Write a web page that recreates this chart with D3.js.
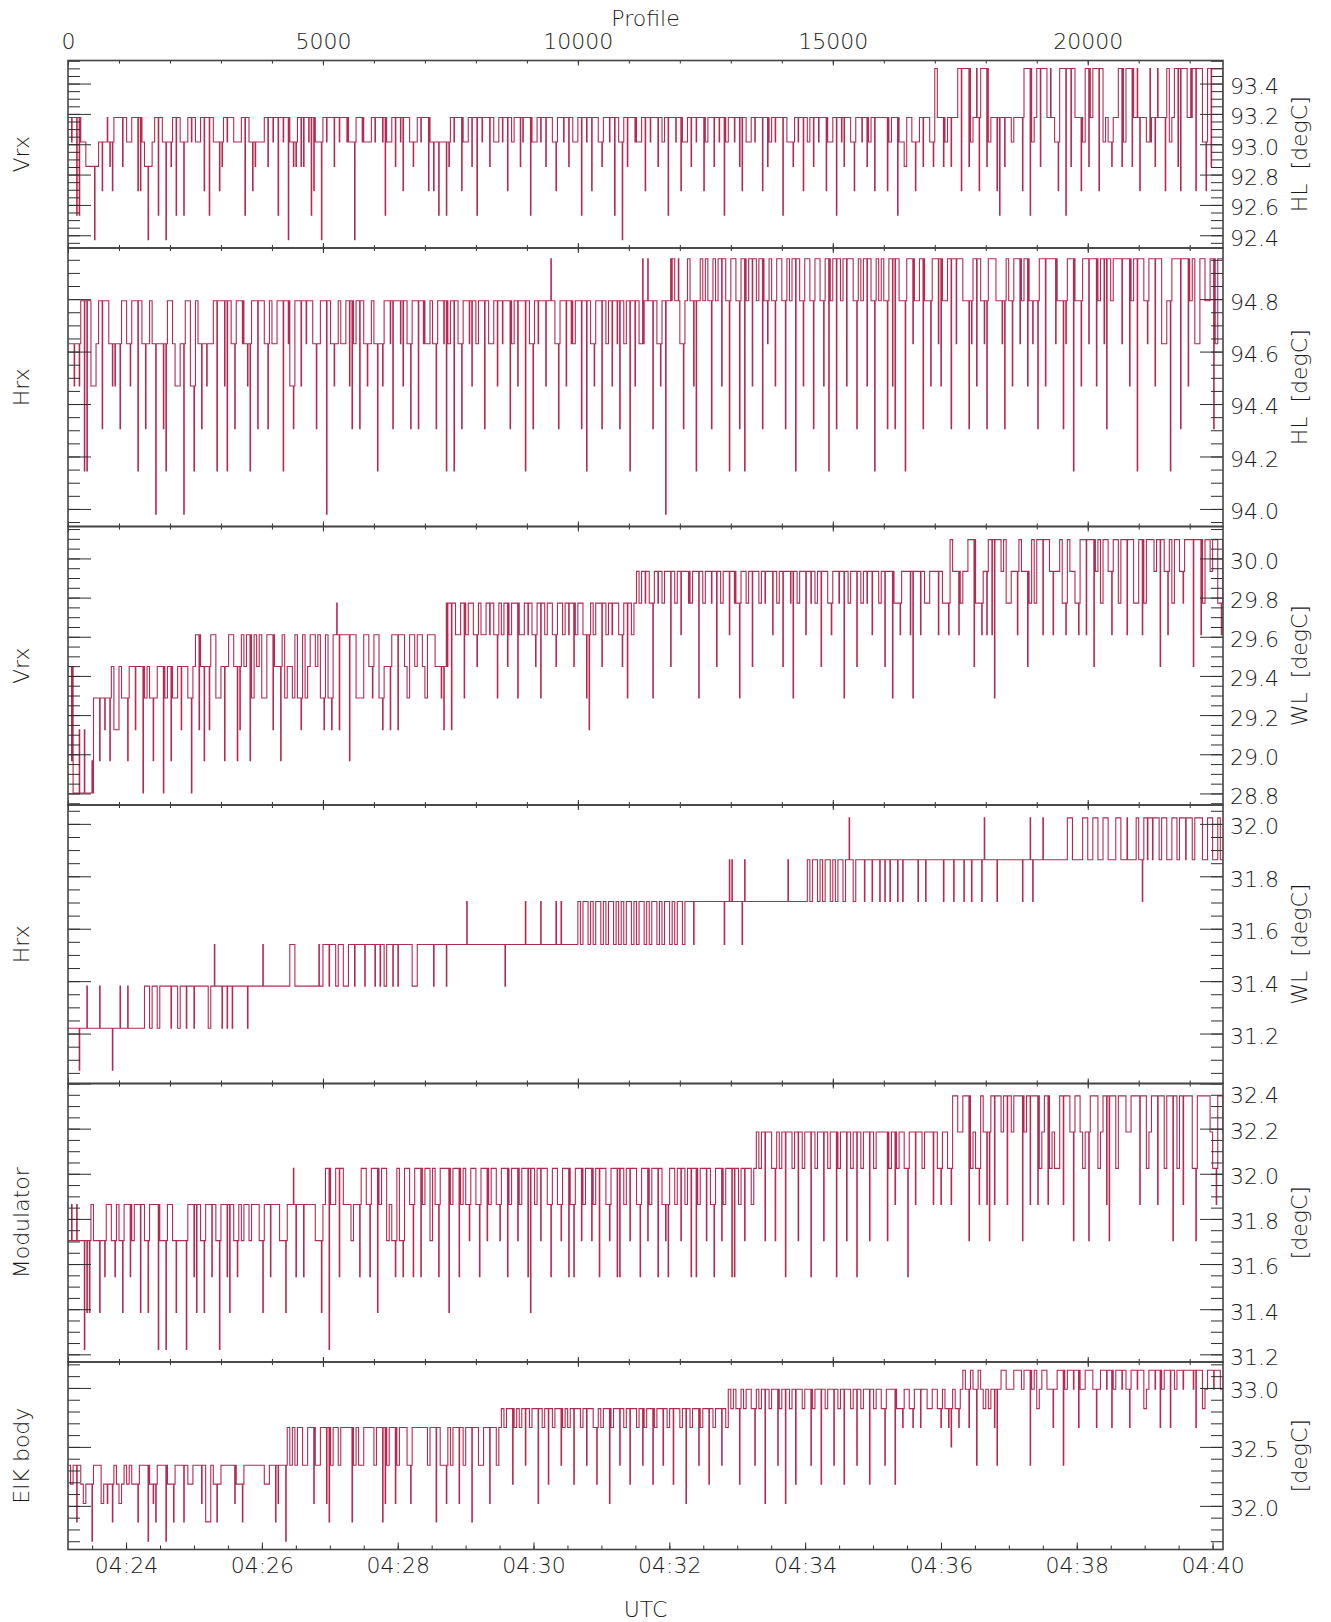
<!DOCTYPE html>
<html>
<head>
<meta charset="utf-8">
<script src="https://cdn.jsdelivr.net/npm/d3@7"></script>
<style>
  body { margin: 0; background: #fff; }
  text { font-family: "DejaVu Sans", sans-serif; font-weight: 200; fill: #1a1a1a; font-size: 22px; }
</style>
</head>
<body>
<svg id="chart" width="1331" height="1622"></svg>
<script>
// ---------------- data ----------------
// Housekeeping temperatures, one code character per 50 profiles.
// Digit = temperature level held for the block, letter = a short excursion
// to that level (a=0, b=1, ...) before returning to the held level.
const profileCount = 22653;
const profilesPerCode = 50;
const timeStart = new Date(Date.UTC(2000, 0, 1, 4, 23, 8, 700));
const timeEnd   = new Date(Date.UTC(2000, 0, 1, 4, 40, 9, 200));

const profileTicks = [0, 5000, 10000, 15000, 20000];

const panelNames = ["Vrx", "Hrx", "Vrx", "Hrx", "Modulator", "EIK body"];
const panelUnits = ["HL  [degC]", "HL  [degC]", "WL  [degC]", "WL  [degC]", "[degC]", "[degC]"];
const panelRanges = [[92.316, 93.552], [93.933, 94.995], [28.741, 30.163], [31.0095, 32.072], [31.166, 32.40], [31.63, 33.22]];
const majorSteps = [0.2, 0.2, 0.2, 0.2, 0.2, 0.5];
const minorSteps = [0.05, 0.05, 0.05, 0.05, 0.05, 0.1];

const hlVrxLevels = [92.371, 92.532, 92.693, 92.854, 93.015, 93.176, 93.338, 93.499];
const hlVrxCodes =
  "5e5bb44333ad4c4fdc55 5d54455cc43a345b54a4 d5b54b45e5445c5b544c d5e554445b54cd4445d5 " +
  "e5b5e5a4dd5dd5ebc44a 5e55d5e55e44a55e4445 e55eb445d5ec554d45e5 5c4c4b44bd " +
  "5e55c445d5b5e55d5445 e5c5455de55b445e5d55 4c55e5d5445b5e5c554d 55e5b54a5d55e445c5e5 " +
  "5d545b55e5c445d5e55c 455d5e5b455e5dc5445e 55c5d45e55b544d5e5c5 45d5e55c445b5ed554c5 5e5d45c55 " +
  "55c455b443554c45d554 d755d45d557c77d45hc7 7d455cb5d554555c77b4 57d775h54c7hb7d755c4 " +
  "7d577c7454d557d477d5 hc554h5dh55c7457dc77 5h7c774c7d7h775";

const hlHrxLevels = [93.98, 94.145, 94.306, 94.469, 94.630, 94.794, 94.954];
const hlHrxCodes =
  "44d4d5bb53345c554dd4 c554d55b54c454a44cb5 54334a553b54c4d445b5 5db54c55e4db55c554c5 " +
  "4455b5e3c55d5e554c45 5a54d45445dc45c54d45 4b4d55ec55ed54c55c5e 4454c55eb4 " +
  "5b54c55ed5455c5445d5 e55c45d55b54c5e55d5g 54c55d5e455c5b54d55c 545d5ec545b5d54g5g5c " +
  "54d5a5g65g4c565db565 65c656d65b665c6b56d6 56c5e65d665c656b65d6 65c665d6b56c656d665c 656d65b65 " +
  "65c6dc655b66e556c55d 66ed556c6e6655ce6d65 ec66655ec65d66e56d5e 5c66d666e55ce66b55d6 " +
  "6e66d56ec65666e66d56 b665e66d66445b666c66 d564466556c466c";

const wlVrxLevels = [28.802, 28.967, 29.125, 29.287, 29.448, 29.610, 29.772, 29.934, 30.096];
const wlVrxCodes =
  "4b00c0c00b33b3c3b422 433b44c44a343b344a34 b334c443a45c4b4c5533 4b4554bc545b35453355 " +
  "c44b5344353c53455453 c53c5gc555b55333554d 553c44c55c5543554554 355544dcg6 " +
  "c6556d5665e6556f65d6 56e566d556f65e6d6566 5e6656f6e5665dc6566e 656f665e6d656767g76d " +
  "7g7677e767f77g677d76 77g7e7677f7g6d7767e7 767g77f767e77gd7677f 7g767e776f77g7d7677e 767g7f776 " +
  "7e77d66f777fd77f7667 77f766f877f67788e66f 7f8fd88786677f877e68 688f887f7786f8776f88 " +
  "f88e786887f88688f886 68f688878e87f86887g8 88e88f6887886f8";

const wlHrxLevels = [31.06, 31.22, 31.381, 31.540, 31.704, 31.863, 32.023];
const wlHrxCodes =
  "1111a11c1111c1111a11 c11c1111112212212222 b22122b22b2222212d22 b2b2b22222b22222d222 " +
  "222222233222222222d2 33c332332233c333c333 c3c3233c3c3333322333 333c3333c3 " +
  "333333e3333333333333 3c3333333e33333e3333 3e3e3333334344343443 43443434344343443434 " +
  "434344343443444d4444 4444444d4ff444df4444 444444444444f4444444 5455454554545545g545 55e55e55e " +
  "5e5e55e5e55555e55e55 5555e555e555e55e555e g5555e555555555e55ge 555g5555555556655556 " +
  "6556655665556655g555 65e6f6f665665566566f 665666556655655";

const modulatorLevels = [31.222, 31.385, 31.544, 31.704, 31.864, 32.024, 32.185, 32.345];
const modulatorCodes =
  "3e3e33abb433b3c443c4 3b44c344b43b444a33a4 43b333a44cb43b44c43a 44cb43c434434443b44c " +
  "44433b44fc44c444433b 45a445c5444344c554c5 5b455343c53c554c55c4 55354c555b " +
  "455c454d554c55d4554d 55c455d455cb545d554c 554d55c4c55d455d45c5 54d55cc545d554c55d45 " +
  "5c54dc5545d545c5c455 d54c55d455cc545d5545 656d665d656c6656d656 6c6566d6566c566d656c 6566d6566 " +
  "66d56e5665c66e665666 e65e665e776677d565e7 6ed7e7767e76777d67e7 7e567e56557e776d7765 " +
  "6d777567ed7757776677 7e775677e77577d757e7 775d7777765e776";

const eikBodyLevels = [31.70, 31.864, 32.02, 32.184, 32.345, 32.5, 32.664, 32.825, 32.989, 33.15];
const eikBodyCodes =
  "434b43233a44423c3b43 2343433b444a3cb444a3 3b444b433444c41143b3 44444c33b44444444334 " +
  "4bc44a6464664466c446 6cb46646666b46446666 466bc466c46664c66666 6466b644c6 " +
  "466c6466b664466c6646 7677d6767e7677c767d7 677e6767d7767e776d76 77c677e767d7767e677d " +
  "677e767d7767c7677e67 7d7677e768787d87887e 878c8788e78c878d8878 8e788d8788e878d8878e 8788d8788 " +
  "7e888d77g887g88g8877 887g87gf87g8 98g98e987878ge899888 999899e89789988g899e " +
  "899i9g889998g899i9g8 99i98g99i997899i9g89 9g9899i999ig997899i998g";

const panelLevels = [hlVrxLevels, hlHrxLevels, wlVrxLevels, wlHrxLevels, modulatorLevels, eikBodyLevels];
const panelCodes  = [hlVrxCodes, hlHrxCodes, wlVrxCodes, wlHrxCodes, modulatorCodes, eikBodyCodes];

// ---------------- layout ----------------
const plotLeft = 68, plotRight = 1223;
const panelTops = [60.5, 248, 526.5, 805, 1083.5, 1362];
const panelBottoms = [248, 526.5, 805, 1083.5, 1362, 1549.5];
const lineColor = "#b42a50";
const axisColor = "#2e2e2e";

const svg = d3.select("#chart");

const xProfile = d3.scaleLinear().domain([0, profileCount]).range([plotLeft, plotRight]);
const xTime = d3.scaleUtc().domain([timeStart, timeEnd]).range([plotLeft, plotRight]);

function stepValues(lo, hi, step) {
  const a = Math.ceil(lo / step - 1e-6), b = Math.floor(hi / step + 1e-6);
  return d3.range(a, b + 1).map(k => +(k * step).toFixed(4));
}

// turn a code string into step-trace vertices [profile, temperature]
function decode(codes, levels) {
  const s = codes.replace(/\s+/g, "");
  const pts = [];
  let base = null;
  for (let i = 0; i < s.length; i++) {
    const ch = s[i], p0 = i * profilesPerCode;
    if (ch >= "0" && ch <= "9") {
      base = +ch;
      pts.push([p0, levels[base]]);
    } else {
      const k = ch.charCodeAt(0) - 97;
      if (base === null) base = k;
      pts.push([p0, levels[base]]);
      pts.push([p0 + 20, levels[k]]);
      pts.push([p0 + 30, levels[base]]);
    }
  }
  pts.push([s.length * profilesPerCode, levels[base]]);
  return pts;
}

function styleAxis(g) {
  g.select(".domain").remove();
  g.selectAll(".tick line").attr("stroke", axisColor).attr("stroke-width", 1);
  g.selectAll(".tick text").attr("fill", "#1a1a1a").style("font-size", "22px");
  g.attr("font-family", null).attr("font-size", null);
}

panelNames.forEach((name, i) => {
  const top = panelTops[i], bottom = panelBottoms[i];
  const y = d3.scaleLinear().domain(panelRanges[i]).range([bottom, top]);
  const g = svg.append("g");

  const clipId = "clip" + i;
  svg.append("clipPath").attr("id", clipId).append("rect")
    .attr("x", plotLeft).attr("y", top).attr("width", plotRight - plotLeft).attr("height", bottom - top);

  // temperature trace
  const pts = decode(panelCodes[i], panelLevels[i]);
  const line = d3.line().x(d => xProfile(d[0])).y(d => y(d[1])).curve(d3.curveStepAfter);
  g.append("path").datum(pts)
    .attr("clip-path", `url(#${clipId})`)
    .attr("fill", "none").attr("stroke", lineColor).attr("stroke-width", 1.1)
    .attr("d", line);

  // y ticks: left side ticks only, right side ticks with labels
  const minors = stepValues(panelRanges[i][0], panelRanges[i][1], minorSteps[i]);
  const majors = stepValues(panelRanges[i][0], panelRanges[i][1], majorSteps[i]);

  g.append("g").attr("transform", `translate(${plotLeft},0)`)
    .call(d3.axisLeft(y).tickValues(minors).tickSize(-12).tickFormat("")).call(styleAxis);
  g.append("g").attr("transform", `translate(${plotLeft},0)`)
    .call(d3.axisLeft(y).tickValues(majors).tickSize(-23).tickFormat("")).call(styleAxis);
  g.append("g").attr("transform", `translate(${plotRight},0)`)
    .call(d3.axisRight(y).tickValues(minors).tickSize(-12).tickFormat("")).call(styleAxis);
  const right = g.append("g").attr("transform", `translate(${plotRight},0)`)
    .call(d3.axisRight(y).tickValues(majors).tickSize(-23).tickPadding(7).tickFormat(d3.format(".1f")))
    .call(styleAxis);
  right.selectAll(".tick text").attr("dy", "0.45em")
    .attr("y", d => Math.max(0, top + 9 - y(d)));

  // profile ticks along the top and bottom edges
  const profMinor = d3.range(0, profileCount + 1, 1000);
  g.append("g").attr("transform", `translate(0,${top})`)
    .call(d3.axisTop(xProfile).tickValues(profMinor).tickSize(-3).tickFormat("")).call(styleAxis);
  g.append("g").attr("transform", `translate(0,${top})`)
    .call(d3.axisTop(xProfile).tickValues(profileTicks).tickSize(-5)
      .tickPadding(11.5).tickFormat(i === 0 ? d3.format("d") : "")).call(styleAxis);

  if (i < panelNames.length - 1) {
    g.append("g").attr("transform", `translate(0,${bottom})`)
      .call(d3.axisBottom(xProfile).tickValues(profMinor).tickSize(-3).tickFormat("")).call(styleAxis);
    g.append("g").attr("transform", `translate(0,${bottom})`)
      .call(d3.axisBottom(xProfile).tickValues(profileTicks).tickSize(-5).tickFormat("")).call(styleAxis);
  } else {
    g.append("g").attr("transform", `translate(0,${bottom})`)
      .call(d3.axisBottom(xTime).ticks(d3.utcSecond.every(30)).tickSize(-4).tickFormat("")).call(styleAxis);
    g.append("g").attr("transform", `translate(0,${bottom})`)
      .call(d3.axisBottom(xTime).ticks(d3.utcMinute.every(2)).tickSize(-7).tickPadding(7.6)
        .tickFormat(d3.utcFormat("%H:%M"))).call(styleAxis);
  }

  // frame
  g.append("rect").attr("x", plotLeft).attr("y", top)
    .attr("width", plotRight - plotLeft).attr("height", bottom - top)
    .attr("fill", "none").attr("stroke", "#444").attr("stroke-width", 1.6);

  // titles
  const cy = (top + bottom) / 2;
  svg.append("text").attr("transform", `translate(29,${cy}) rotate(-90)`)
    .attr("text-anchor", "middle").text(name);
  svg.append("text").attr("transform", `translate(1306.5,${cy}) rotate(-90)`)
    .attr("text-anchor", "middle").style("white-space", "pre").text(panelUnits[i]);
});

svg.append("text").attr("x", (plotLeft + plotRight) / 2).attr("y", 26)
  .attr("text-anchor", "middle").text("Profile");
svg.append("text").attr("x", (plotLeft + plotRight) / 2).attr("y", 1617)
  .attr("text-anchor", "middle").text("UTC");
</script>
</body>
</html>
